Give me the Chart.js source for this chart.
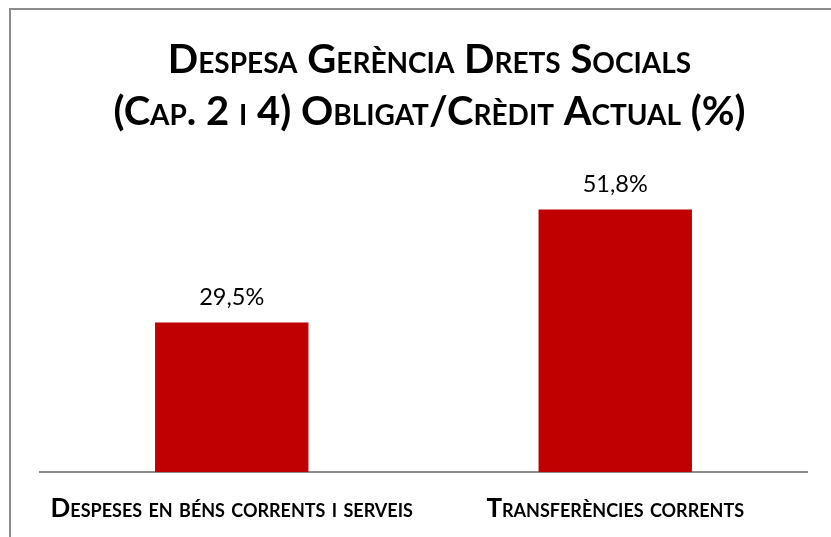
<!DOCTYPE html>
<html>
<head>
<meta charset="utf-8">
<script src="https://cdn.jsdelivr.net/npm/chart.js@4"></script>
<style>
  body { margin: 0; background: #fff; }
  #wrap { position: relative; width: 831px; height: 537px; }
  #frame { position: absolute; left: 9px; top: 8px; width: 900px; height: 600px;
           border-left: 2px solid #8c8c8c; border-top: 2px solid #8c8c8c; }
  canvas { position: absolute; left: 0; top: 0; }
</style>
</head>
<body>
<div id="wrap">
  <div id="frame"></div>
  <canvas id="myChart" width="831" height="537"></canvas>
</div>
<script>
// dades //
const categories = ['Despeses en béns corrents i serveis', 'Transferències corrents'];
const values = [29.5, 51.8];
const titleLines = ['Despesa Gerència Drets Socials', '(Cap. 2 i 4) Obligat/Crèdit Actual (%)'];

function percent(v) {
    return v.toLocaleString('ca-ES', { minimumFractionDigits: 1, maximumFractionDigits: 1 }) + '%';
}

// etiquetes de dades sobre les barres
const valueLabels = {
    id: 'valueLabels',
    afterDatasetsDraw(chart) {
        const ctx = chart.ctx;
        const meta = chart.getDatasetMeta(0);
        ctx.save();
        ctx.font = '23.5px Lato';
        ctx.fillStyle = '#000';
        ctx.textAlign = 'center';
        ctx.textBaseline = 'middle';
        meta.data.forEach((bar, i) => {
            ctx.fillText(percent(values[i]), bar.x, bar.y - 25);
        });
        ctx.restore();
    }
};

// el titol original no esta centrat sobre l'eix, el moc una mica a la dreta
const titleShift = {
    id: 'titleShift',
    afterLayout(chart) {
        chart.titleBlock.left += 6;
        chart.titleBlock.right += 6;
    }
};

let ctx = document.getElementById('myChart').getContext('2d');
let myChart = new Chart(ctx, {
    type: 'bar',
    data: {
        labels: categories,
        datasets: [{
            data: values,
            backgroundColor: '#c00000',
            borderWidth: 0,
            barPercentage: 0.4,
            categoryPercentage: 1
        }]
    },
    options: {
        responsive: false,
        animation: false,
        layout: { padding: { left: 40, right: 24, top: 0, bottom: 0 } },
        plugins: {
            legend: { display: false },
            tooltip: { enabled: false },
            title: {
                display: true,
                text: titleLines,
                color: '#000',
                // l'estil no accepta small-caps, ho poso al pes
                font: { family: 'Lato', size: 40, weight: 'small-caps bold', lineHeight: 1.3 },
                padding: { top: 34, bottom: 30 }
            }
        },
        scales: {
            x: {
                grid: { display: false, drawTicks: false },
                border: { display: true, color: '#8c8c8c', width: 2 },
                ticks: {
                    color: '#000',
                    padding: 21,
                    font: { family: 'Lato', size: 26, weight: 'small-caps bold' }
                },
                afterFit(scale) { scale.height = 65; }
            },
            y: {
                display: false,
                min: 0,
                max: 60
            }
        }
    },
    plugins: [valueLabels, titleShift]
});
</script>
</body>
</html>
